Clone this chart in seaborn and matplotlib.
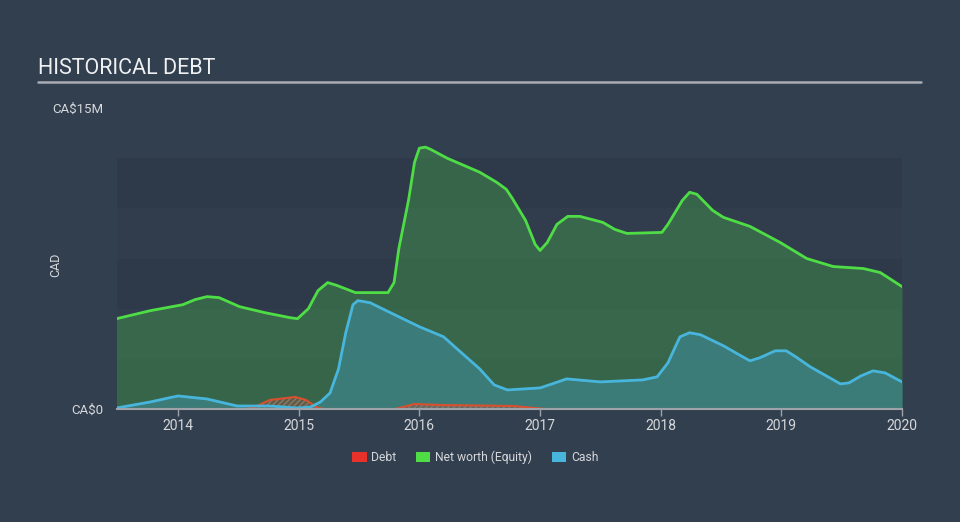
import matplotlib
matplotlib.use("Agg")
import matplotlib.pyplot as plt
from matplotlib.patches import Patch
from matplotlib.lines import Line2D
import seaborn as sns
import pandas as pd

# ---- data (values in CA$ millions, x in fractional years) ----
equity_x = [2013.49, 2013.77, 2014.04, 2014.14, 2014.24, 2014.34, 2014.51, 2014.72, 2014.93,
            2014.99, 2015.08, 2015.16, 2015.24, 2015.32, 2015.47, 2015.74, 2015.79, 2015.83,
            2015.91, 2015.96, 2016.00, 2016.05, 2016.09, 2016.23, 2016.50, 2016.64, 2016.72,
            2016.77, 2016.88, 2016.96, 2017.00, 2017.06, 2017.14, 2017.23, 2017.33, 2017.52,
            2017.62, 2017.72, 2018.01, 2018.06, 2018.18, 2018.24, 2018.30, 2018.43, 2018.52,
            2018.74, 2018.99, 2019.21, 2019.43, 2019.68, 2019.82, 2020.00]
equity_y = [4.5, 4.9, 5.2, 5.45, 5.6, 5.55, 5.1, 4.8, 4.55,
            4.5, 5.0, 5.9, 6.3, 6.15, 5.8, 5.8, 6.3, 8.0,
            10.4, 12.3, 13.0, 13.05, 12.95, 12.5, 11.8, 11.3, 10.95,
            10.5, 9.4, 8.2, 7.9, 8.3, 9.2, 9.6, 9.6, 9.3,
            8.95, 8.75, 8.8, 9.2, 10.4, 10.8, 10.7, 9.9, 9.55,
            9.1, 8.3, 7.5, 7.1, 7.0, 6.8, 6.1]

cash_x = [2013.49, 2013.77, 2013.92, 2014.00, 2014.24, 2014.49, 2014.76, 2014.99, 2015.10,
          2015.18, 2015.26, 2015.33, 2015.39, 2015.45, 2015.49, 2015.59, 2015.76, 2016.00,
          2016.20, 2016.34, 2016.50, 2016.62, 2016.73, 2017.00, 2017.10, 2017.22, 2017.50,
          2017.85, 2017.97, 2018.06, 2018.16, 2018.24, 2018.33, 2018.52, 2018.68, 2018.74,
          2018.82, 2018.95, 2019.04, 2019.12, 2019.24, 2019.49, 2019.56, 2019.66, 2019.76,
          2019.86, 2020.00]
cash_y = [0.05, 0.35, 0.55, 0.65, 0.5, 0.15, 0.15, 0.05, 0.1,
          0.35, 0.8, 2.0, 3.8, 5.2, 5.4, 5.3, 4.8, 4.1,
          3.6, 2.85, 2.0, 1.2, 0.95, 1.05, 1.25, 1.5, 1.35,
          1.45, 1.6, 2.3, 3.6, 3.8, 3.7, 3.15, 2.6, 2.4,
          2.55, 2.9, 2.9, 2.6, 2.1, 1.25, 1.3, 1.65, 1.9,
          1.8, 1.35]

debt_x = [2013.49, 2014.55, 2014.62, 2014.76, 2014.97, 2015.06, 2015.16, 2015.22, 2015.80,
          2015.96, 2016.17, 2016.78, 2016.95, 2017.05, 2020.00]
debt_y = [0, 0, 0.05, 0.45, 0.6, 0.45, 0.05, 0, 0,
          0.25, 0.2, 0.15, 0.05, 0, 0]

years = [2014, 2015, 2016, 2017, 2018, 2019, 2020]
y_ticks = [0, 15]
y_tick_labels = ["CA\\$0", "CA\\$15M"]
legend_labels = ["Debt", "Net worth (Equity)", "Cash"]

# ---- style ----
BG = "#323f4f"
BAND_DARK = "#2e3a4a"
TXT = "#d6d8db"
GRID = "#9ea3aa"
C_DEBT = "#e8312a"
C_EQ = "#4fdd46"
C_CASH = "#48b6dc"

sns.set_theme(style="white")
plt.rcParams["font.family"] = ["Roboto", "DejaVu Sans"]

fig = plt.figure(figsize=(9.6, 5.22), dpi=100, facecolor=BG)
ax = fig.add_axes([117 / 960, 1 - 409 / 522, 785 / 960, 301 / 522])
ax.set_facecolor(BG)

# background bands
for lo, c in [(0, BAND_DARK), (2.5, "#313d4d"), (5, BAND_DARK), (7.5, "#313d4d"), (10, BAND_DARK)]:
    ax.axhspan(lo, lo + 2.5, color=c, zorder=0, lw=0)

eq = pd.DataFrame({"year": equity_x, "value": equity_y})
ca = pd.DataFrame({"year": cash_x, "value": cash_y})
de = pd.DataFrame({"year": debt_x, "value": debt_y})

ax.fill_between(eq["year"], 0, eq["value"], color="#3f8a4a", alpha=0.55, lw=0, zorder=1)
ax.fill_between(ca["year"], 0, ca["value"], color="#3e8a98", alpha=0.6, lw=0, zorder=2)
ax.fill_between(de["year"], 0, de["value"], facecolor="#b04a36", alpha=0.35, lw=0, zorder=3)
ax.fill_between(de["year"], 0, de["value"], facecolor="none", edgecolor="#8a7a70",
                hatch="//////", lw=0, zorder=3)

sns.lineplot(data=eq, x="year", y="value", ax=ax, color=C_EQ, lw=2, zorder=5)
sns.lineplot(data=ca, x="year", y="value", ax=ax, color=C_CASH, lw=2, zorder=5)
sns.lineplot(data=de, x="year", y="value", ax=ax, color="#d9502f", lw=1.5, zorder=4)
for l in ax.lines:
    l.set_solid_joinstyle("round")

ax.set_xlim(2013.494, 2020.0)
ax.set_ylim(0, 15)
ax.set_xlabel("")
ax.set_ylabel("")
ax.set_xticks(years)
ax.set_xticklabels([str(y) for y in years], color=TXT, fontsize=10)
ax.set_yticks(y_ticks)
ax.set_yticklabels(y_tick_labels, color=TXT, fontsize=9.5)
ax.tick_params(axis="x", length=5, width=1, color=GRID, pad=2, bottom=True)
ax.tick_params(axis="y", length=0, pad=10)
for s in ["top", "right", "left"]:
    ax.spines[s].set_visible(False)
ax.spines["bottom"].set_color(GRID)
ax.spines["bottom"].set_linewidth(1.5)
ax.spines["bottom"].set_zorder(6)

fig.text(56 / 960, 1 - 265 / 522, "CAD", rotation=90, color=TXT, fontsize=9,
         ha="center", va="center")

fig.text(38 / 960, 1 - 69 / 522, "HISTORICAL DEBT", color="#eef0f2", fontsize=15.5,
         ha="left", va="center")
fig.add_artist(Line2D([38 / 960, 921 / 960], [1 - 82 / 522, 1 - 82 / 522],
                      color="#a9adb3", lw=1.8, transform=fig.transFigure))

handles = [Patch(facecolor=C_DEBT, edgecolor="none"),
           Patch(facecolor=C_EQ, edgecolor="none"),
           Patch(facecolor=C_CASH, edgecolor="none")]
leg = fig.legend(handles, legend_labels, loc="center", bbox_to_anchor=(0.495, 1 - 457 / 522),
                 ncol=3, frameon=False, fontsize=8.7, handlelength=1.2, handleheight=0.9,
                 handletextpad=0.4, columnspacing=1.6)
for t in leg.get_texts():
    t.set_color(TXT)

fig.savefig("out.png", dpi=100, facecolor=BG)
